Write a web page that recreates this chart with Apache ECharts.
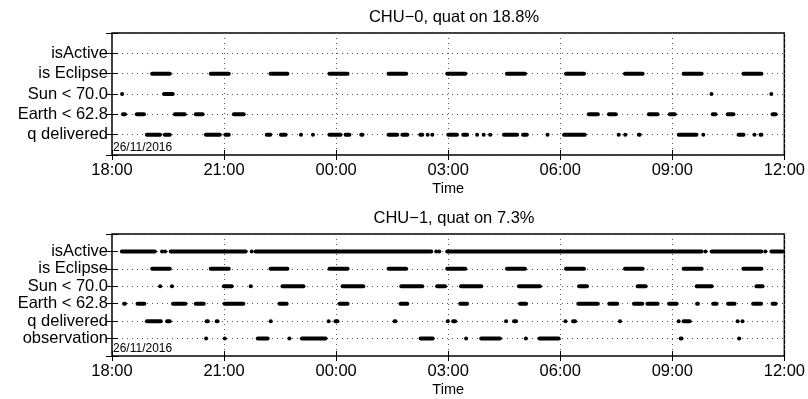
<!DOCTYPE html>
<html><head><meta charset="utf-8">
<script src="https://cdn.jsdelivr.net/npm/echarts@6/dist/echarts.min.js"></script>
<style>html,body{margin:0;padding:0;background:#fff}#c{width:808px;height:399px}</style>
</head><body><div id="c"></div>
<script>
// Time axis: hours after 18:00 on 26/11/2016
const timeTicks = ['18:00','21:00','00:00','03:00','06:00','09:00','12:00'];
const titles = ['CHU\u22120, quat on 18.8%', 'CHU\u22121, quat on 7.3%'];
const dateLabel = '26/11/2016';
const xName = 'Time';
const rowsChu0 = ['q delivered','Earth < 62.8','Sun < 70.0','is Eclipse','isActive'];
const rowsChu1 = ['observation','q delivered','Earth < 62.8','Sun < 70.0','is Eclipse','isActive'];

// segments [start, end] in hours after 18:00
const eclipse = [[1.02,1.60],[2.59,3.18],[4.19,4.75],[5.77,6.36],[7.35,7.93],[8.92,9.51],[10.52,11.11],[12.10,12.69],[13.68,14.26],[15.25,15.84],[16.85,17.44]];

const chu0Active = [];
const chu0Sun = [[0.27,0.27],[1.34,1.68],[16.05,16.05],[17.65,17.65]];
const chu0Earth = [[0.24,0.40],[0.61,0.91],[1.63,2.00],[2.19,2.48],[3.21,3.58],[12.71,13.06],[13.25,13.54],[14.32,14.66],[14.88,15.12],[16.03,16.21],[16.43,16.69],[17.63,17.82]];
const chu0Q = [[0.88,1.34],[1.36,1.60],[2.46,2.94],[2.98,3.18],[4.09,4.29],[4.47,4.70],[5.02,5.10],[5.34,5.42],[5.77,6.17],[6.20,6.41],[6.62,6.76],[7.35,7.69],[7.72,7.96],[8.20,8.36],[8.41,8.49],[8.55,8.60],[8.95,9.29],[9.35,9.56],[9.75,9.80],[9.91,9.99],[10.07,10.18],[10.44,10.90],[10.95,11.16],[11.62,11.70],[12.05,12.71],[13.51,13.62],[13.70,13.78],[14.05,14.18],[15.12,15.70],[15.79,15.87],[16.72,16.96],[17.17,17.23],[17.31,17.44]];

const chu1Active = [[0.21,1.20],[1.34,1.34],[1.42,1.42],[1.52,3.63],[3.74,3.74],[3.79,8.60],[8.68,8.68],[8.76,8.76],[8.92,15.84],[15.89,15.89],[16.00,17.44],[17.49,17.49],[17.60,18.00]];
const chu1Sun = [[1.29,1.29],[1.55,1.66],[2.94,3.26],[3.66,3.77],[4.51,5.18],[6.12,6.78],[7.69,8.36],[8.65,8.97],[9.29,9.94],[10.84,11.51],[12.45,12.77],[14.02,14.34],[15.60,16.11],[17.20,17.47]];
const chu1Earth = [[0.27,0.40],[0.63,0.92],[1.58,2.02],[2.19,2.51],[2.96,3.57],[4.43,4.73],[6.04,6.36],[7.67,7.96],[9.27,9.56],[10.87,11.14],[12.43,13.06],[13.26,13.58],[13.92,14.25],[14.28,14.66],[14.86,15.17],[15.61,15.74],[16.04,16.24],[16.44,16.72],[17.11,17.43],[17.63,17.82]];
const chu1Q = [[0.88,1.36],[1.42,1.60],[2.48,2.62],[2.75,2.88],[4.25,4.25],[5.80,5.80],[5.93,6.09],[7.51,7.64],[8.95,9.03],[9.08,9.24],[10.55,10.55],[10.71,10.87],[12.10,12.18],[12.29,12.45],[13.60,13.60],[15.14,15.20],[15.25,15.52],[16.75,16.75],[16.88,16.88]];
const chu1Obs = [[2.52,2.52],[3.02,3.02],[3.85,4.22],[4.75,4.75],[5.03,5.77],[8.21,8.64],[9.48,9.48],[9.83,10.44],[11.08,11.08],[11.39,12.01],[15.17,15.30],[16.79,16.79]];

const panels = [
  { rows: rowsChu0, tracks: [chu0Q, chu0Earth, chu0Sun, eclipse, chu0Active], top: 33 },
  { rows: rowsChu1, tracks: [chu1Obs, chu1Q, chu1Earth, chu1Sun, eclipse, chu1Active], top: 234 }
];

const FONT = '"Liberation Sans", Arial, sans-serif';
const chart = echarts.init(document.getElementById('c'), null, {renderer: 'canvas'});

function renderItem(params, api) {
  const a = api.coord([api.value(0), api.value(2)]);
  const b = api.coord([api.value(1), api.value(2)]);
  let x0 = a[0], x1 = b[0];
  const minW = 4;
  if (x1 - x0 < minW) { const c = (x0 + x1) / 2; x0 = c - minW / 2; x1 = c + minW / 2; }
  const cs = params.coordSys;
  x0 = Math.max(x0, cs.x); x1 = Math.min(x1, cs.x + cs.width);
  return { type: 'rect', shape: { x: x0, y: a[1] - 2, width: x1 - x0, height: 4, r: 2 }, style: { fill: '#000' } };
}

const grid = [], xAxis = [], yAxis = [], series = [], title = [], graphic = [];
panels.forEach((p, i) => {
  const n = p.rows.length;
  grid.push({ left: 112, right: 22, top: p.top, height: 122, show: true, borderColor: '#000', borderWidth: 1.5, backgroundColor: 'transparent' });
  title.push({ text: titles[i], left: 449, top: p.top - 29, textAlign: 'center',
    textStyle: { fontFamily: FONT, fontSize: 16.5, fontWeight: 'normal', color: '#000' } });
  const dot = { type: [1, 4], color: '#555', width: 1 };
  xAxis.push({ gridIndex: i, type: 'value', min: 0, max: 18, interval: 3, position: 'bottom',
    axisLine: { show: false },
    axisTick: { inside: true, length: 5, lineStyle: { color: '#000' } },
    axisLabel: { formatter: v => timeTicks[Math.round(v / 3)], color: '#000', fontFamily: FONT, fontSize: 16.5, margin: 7 },
    splitLine: { show: true, lineStyle: dot },
    name: xName, nameLocation: 'middle', nameGap: 26,
    nameTextStyle: { fontFamily: FONT, fontSize: 14.5, color: '#000' } });
  xAxis.push({ gridIndex: i, type: 'value', min: 0, max: 18, interval: 3, position: 'top',
    axisLine: { show: false }, axisTick: { inside: true, length: 5, lineStyle: { color: '#000' } },
    axisLabel: { show: false }, splitLine: { show: false } });
  yAxis.push({ gridIndex: i, type: 'value', min: 0, max: n + 1, interval: 1, position: 'left',
    axisLine: { show: false }, axisTick: { inside: true, length: 6, lineStyle: { color: '#000' } },
    axisLabel: { formatter: v => p.rows[v - 1] || '', color: '#000', fontFamily: FONT, fontSize: 16.5, margin: 4 },
    splitLine: { show: true, lineStyle: dot } });
  yAxis.push({ gridIndex: i, type: 'value', min: 0, max: n + 1, interval: 1, position: 'right',
    axisLine: { show: false }, axisTick: { inside: true, length: 6, lineStyle: { color: '#000' } },
    axisLabel: { show: false }, splitLine: { show: false } });
  const data = [];
  p.tracks.forEach((segs, r) => segs.forEach(s => data.push([s[0], s[1], r + 1])));
  series.push({ type: 'custom', xAxisIndex: 2 * i, yAxisIndex: 2 * i, renderItem, data, animation: false, z: 5 });
  graphic.push({ type: 'text', left: 113, top: p.top + 109, z: 10,
    style: { text: dateLabel, font: '12px ' + FONT, fill: '#000' } });
});

chart.setOption({ animation: false, backgroundColor: '#fff', title, grid, xAxis, yAxis, series, graphic });
</script></body></html>
